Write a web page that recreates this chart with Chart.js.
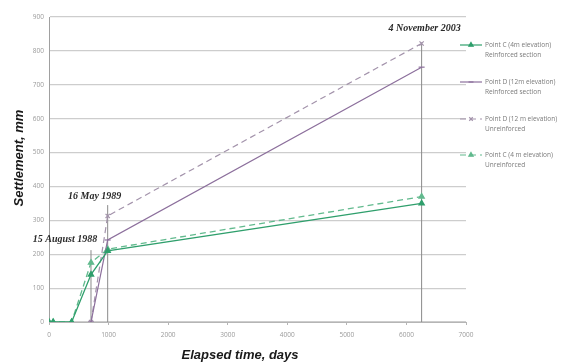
<!DOCTYPE html>
<html lang="en">
<head>
<meta charset="UTF-8">
<title>Settlement vs elapsed time</title>
<script src="https://cdn.jsdelivr.net/npm/chart.js"></script>
<style>
  html, body { margin: 0; padding: 0; background: #fff; }
  #wrap { width: 561px; height: 363px; }
</style>
</head>
<body>
<div id="wrap"><canvas id="settlement"></canvas></div>
<script>
// values (elapsed days / settlement in mm)
const cReinfDays = [0, 70, 380, 705, 985, 6255];
const cReinfMm   = [0, 0, 0, 140, 210, 350];
const dReinfDays = [705, 985, 6255];
const dReinfMm   = [0, 242, 752];
const dUnreinfDays = [705, 985, 6255];
const dUnreinfMm   = [0, 313, 822];
const cUnreinfDays = [0, 70, 380, 705, 985, 6255];
const cUnreinfMm   = [0, 0, 0, 175, 215, 370];

// dated survey markers
const eventDays   = [705, 985, 6255];
const eventTops   = [212, 345, 825];
const eventLabels = ['15 August 1988', '16 May 1989', '4 November 2003'];

const seriesNames = [
    ['Point C (4m elevation)', 'Reinforced section'],
    ['Point D (12m elevation)', 'Reinforced section'],
    ['Point D (12 m elevation)', 'Unreinforced'],
    ['Point C (4 m elevation)', 'Unreinforced']
];

const yTicks = [0, 100, 200, 300, 400, 500, 600, 700, 800, 900];
const xTicks = [0, 1000, 2000, 3000, 4000, 5000, 6000, 7000];

function pts(xs, ys) {
    return xs.map((x, i) => ({ x: x, y: ys[i] }));
}

const datasets = [
    { data: pts(cReinfDays, cReinfMm), borderColor: '#2f9f6c', backgroundColor: '#2f9f6c',
      borderWidth: 1.3, pointStyle: 'triangle', pointRadius: 3 },
    { data: pts(dReinfDays, dReinfMm), borderColor: '#8c6f9c', backgroundColor: '#8c6f9c',
      borderWidth: 1.2, pointStyle: 'line', pointRadius: 3 },
    { data: pts(dUnreinfDays, dUnreinfMm), borderColor: '#a393ab', backgroundColor: '#a393ab',
      borderWidth: 1.2, borderDash: [6, 4], pointStyle: 'crossRot', pointRadius: 3 },
    { data: pts(cUnreinfDays, cUnreinfMm), borderColor: '#62ba8e', backgroundColor: '#62ba8e',
      borderWidth: 1.3, borderDash: [6, 4], pointStyle: 'triangle', pointRadius: 3 }
];

// thin vertical lines for the survey dates
eventDays.forEach((d, i) => {
    datasets.push({
        data: [{ x: d, y: 0 }, { x: d, y: eventTops[i] }],
        borderColor: '#8a8a8a', borderWidth: 1, pointRadius: 0
    });
});
datasets.forEach(ds => { ds.showLine = true; ds.fill = false; });

// pixel offsets of each date label from the top of its line
const labelOffsets = [[-26, -11], [-13, -9], [3, -14]];

const extras = {
    id: 'extras',
    afterDraw(chart) {
        const ctx = chart.ctx;
        const xs = chart.scales.x, ys = chart.scales.y;
        ctx.save();
        ctx.fillStyle = '#2a2a2a';
        ctx.textAlign = 'center';
        ctx.textBaseline = 'middle';
        ctx.font = 'bold italic 10px "Liberation Serif"';
        eventLabels.forEach((t, i) => {
            const px = xs.getPixelForValue(eventDays[i]);
            const py = ys.getPixelForValue(eventTops[i]);
            ctx.fillText(t, px + labelOffsets[i][0], py + labelOffsets[i][1]);
        });

        // axis titles
        ctx.fillStyle = '#1a1a1a';
        ctx.font = 'bold italic 13px "Liberation Sans"';
        ctx.fillText('Elapsed time, days', 240, 355);
        ctx.translate(19, 158);
        ctx.rotate(-Math.PI / 2);
        ctx.fillText('Settlement, mm', 0, 0);
        ctx.restore();

        // legend at the right
        const rows = [45, 82, 119, 155];
        ctx.save();
        ctx.font = '6.5px "Open Sans"';
        ctx.textAlign = 'left';
        ctx.textBaseline = 'middle';
        seriesNames.forEach((lines, i) => {
            const ds = datasets[i];
            const y = rows[i];
            ctx.strokeStyle = ds.borderColor;
            ctx.lineWidth = 1.2;
            ctx.setLineDash(ds.borderDash || []);
            ctx.beginPath();
            ctx.moveTo(460, y);
            ctx.lineTo(482, y);
            ctx.stroke();
            ctx.setLineDash([]);
            ctx.fillStyle = ds.backgroundColor;
            Chart.helpers.drawPoint(ctx, {
                pointStyle: ds.pointStyle, radius: 2.5, borderWidth: 1, rotation: 0
            }, 471, y);
            ctx.fillStyle = '#7a7a7a';
            ctx.fillText(lines[0], 485, y);
            ctx.fillText(lines[1], 485, y + 10);
        });
        ctx.restore();
    }
};

new Chart(document.getElementById('settlement'), {
    type: 'scatter',
    data: { datasets: datasets },
    options: {
        responsive: true,
        maintainAspectRatio: false,
        animation: false,
        devicePixelRatio: 1,
        layout: { padding: { top: 17, right: 95, left: 0, bottom: 0 } },
        plugins: { legend: { display: false }, tooltip: { enabled: false } },
        scales: {
            x: {
                type: 'linear', min: 0, max: 7000,
                afterFit: s => { s.height = 41; },
                afterBuildTicks: s => { s.ticks = xTicks.map(v => ({ value: v })); },
                grid: { drawOnChartArea: false, tickLength: 3, color: '#b5b5b5' },
                border: { color: '#b5b5b5' },
                ticks: { color: '#9a9a9a', font: { size: 6.5, family: 'Open Sans' }, padding: 6,
                         callback: v => String(v) }
            },
            y: {
                min: 0, max: 900,
                afterFit: s => { s.width = 49; },
                afterBuildTicks: s => { s.ticks = yTicks.map(v => ({ value: v })); },
                grid: { color: '#cdcdcd', lineWidth: 1.2, drawTicks: false },
                border: { color: '#a0a0a0' },
                ticks: { color: '#9a9a9a', font: { size: 6.5, family: 'Open Sans' }, padding: 5,
                         callback: v => String(v) }
            }
        }
    },
    plugins: [extras]
});
</script>
</body>
</html>
